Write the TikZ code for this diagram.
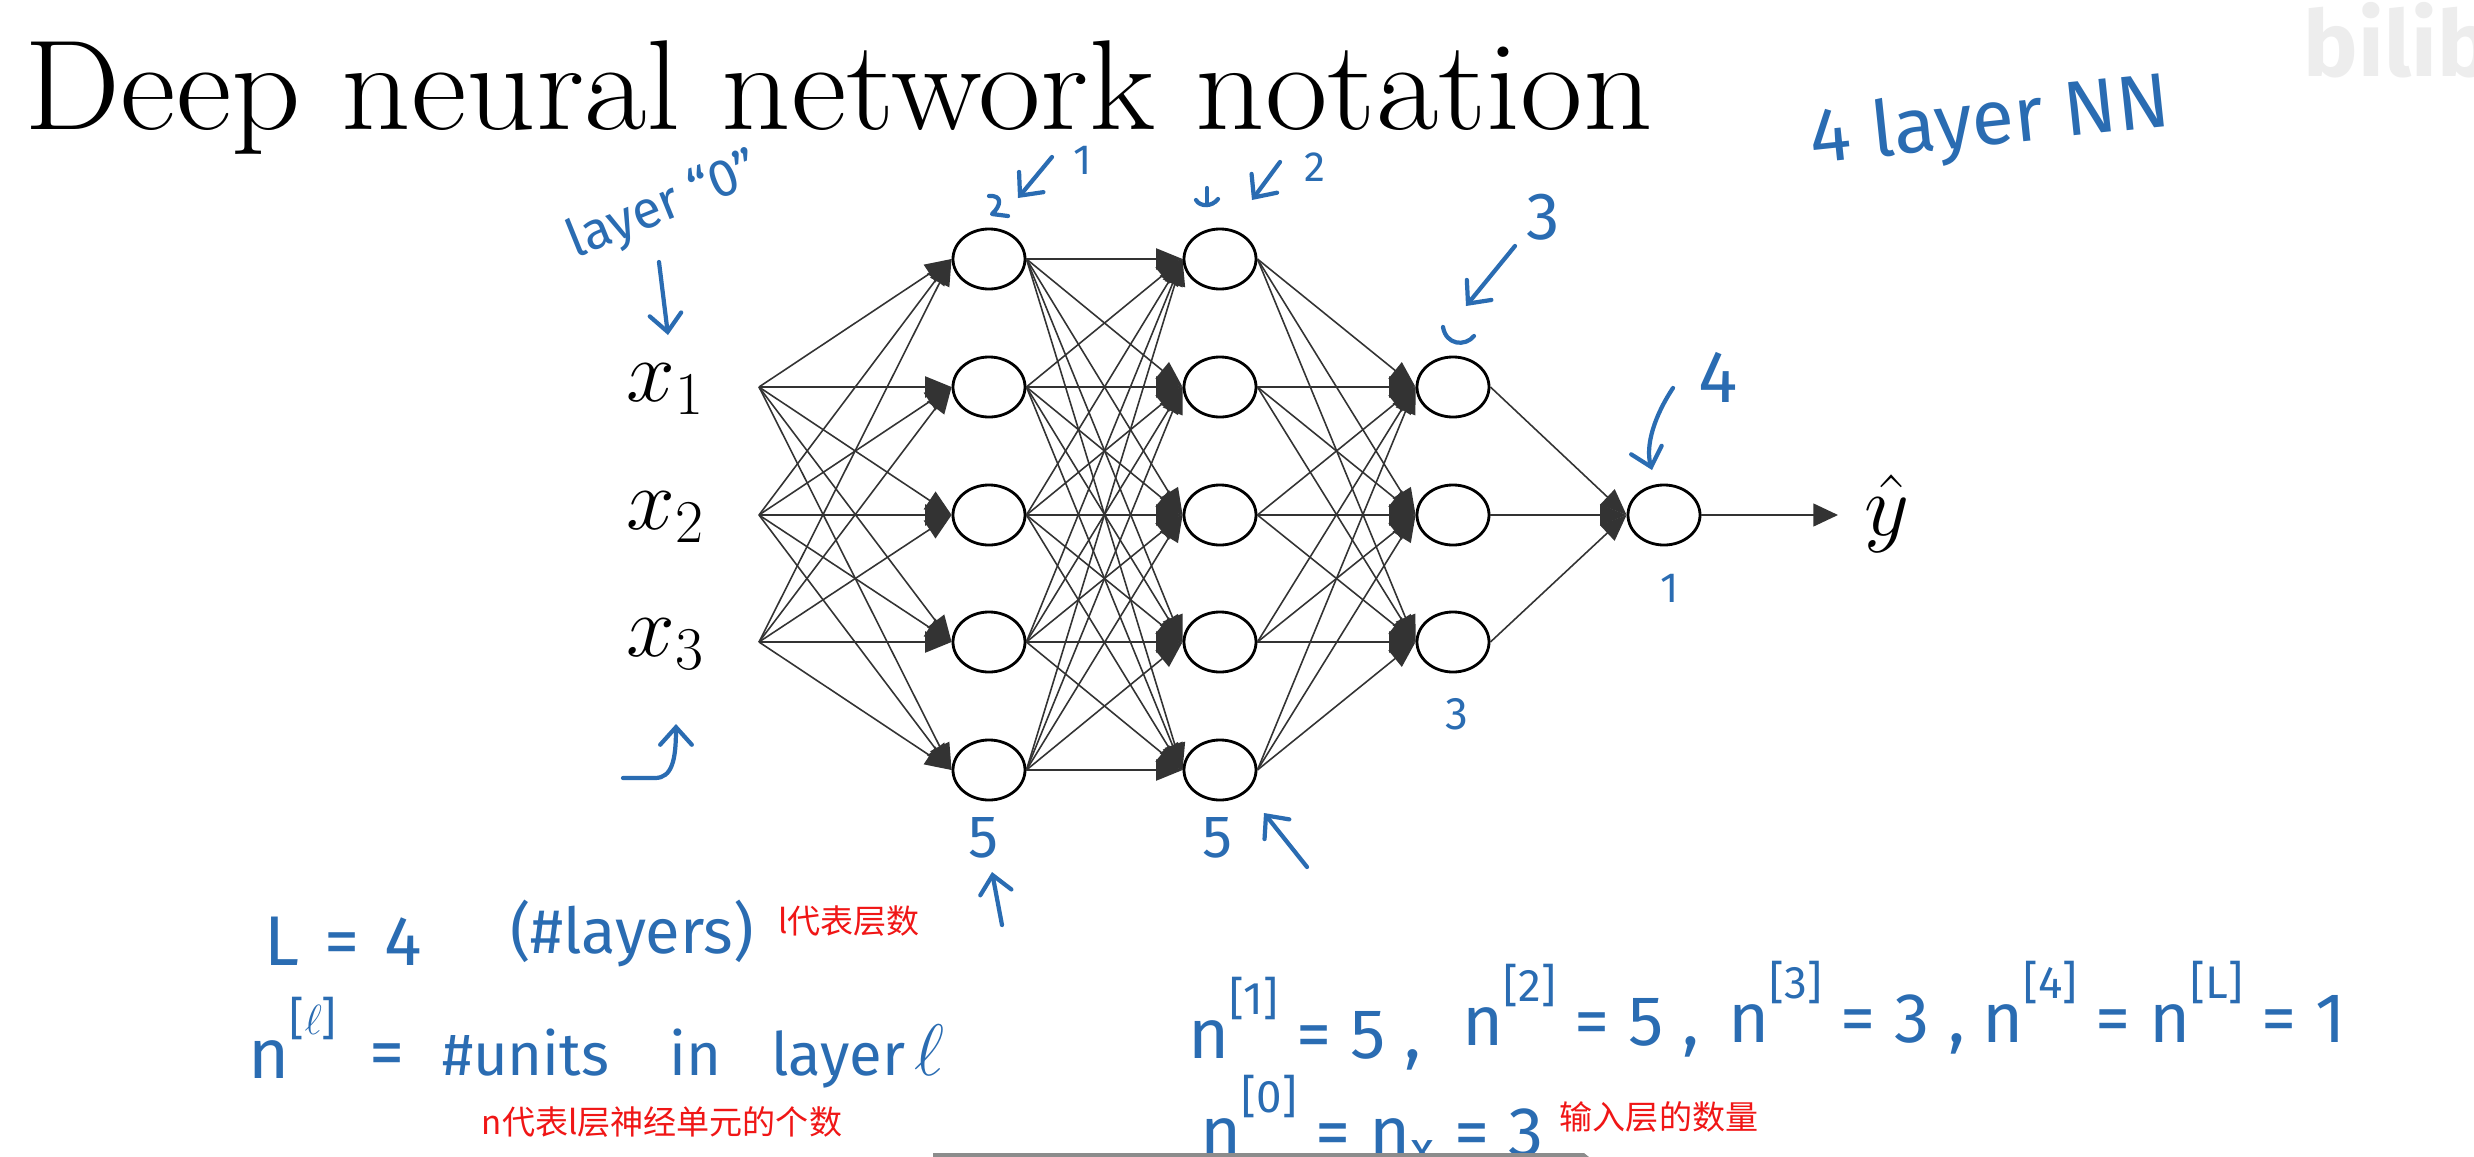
\documentclass[tikz,border=0pt]{standalone}
\usepackage{fontspec}
\usetikzlibrary{arrows.meta,shapes.geometric}
\newfontfamily\handfont{Fira Sans}
\newfontfamily\cjkfont{Noto Sans CJK SC}
\definecolor{ink}{RGB}{42,108,178}
\definecolor{note}{RGB}{240,22,22}
% small raised index written after a handwritten n
\newcommand\hidx[1]{\raisebox{0.62em}{\fontsize{13}{13}\selectfont #1}}

\begin{document}
\begin{tikzpicture}[x=0.01cm,y=-0.01cm,
  neuron/.style={draw=black, line width=0.8pt, ellipse, minimum width=0.72cm,
    minimum height=0.60cm, inner sep=0pt, fill=white},
  conn/.style={draw=black!80, line width=0.45pt, -{Triangle[length=7.5pt,width=6pt]}},
  mathlbl/.style={inner sep=0pt, font=\fontsize{23}{27}\selectfont},
  hand/.style={text=ink, inner sep=0pt, font=\handfont\fontsize{#1}{#1}\selectfont},
  handarrow/.style={draw=ink, line width=1.2pt, line cap=round, line join=round,
    -{Straight Barb[length=5pt,width=9pt,line cap=round]}},
  handmark/.style={draw=ink, line width=1.2pt, line cap=round, line join=round},
  remark/.style={text=note, inner sep=0pt, font=\cjkfont\fontsize{9.4}{11}\selectfont}]

\useasboundingbox (0,0) rectangle (2474,1157);
\fill[white] (0,0) rectangle (2474,1157);

% faint video watermark
\node[anchor=north west, inner sep=0pt, text=black!7,
  font=\handfont\bfseries\fontsize{26}{26}\selectfont] (wm) at (2303,2) {bilibili};

% title
\node[anchor=base west, inner sep=0pt, font=\fontsize{35}{40}\selectfont]
  (title) at (24,129) {\scalebox{1.105}[1.04]{Deep neural network notation}};

% neurons
\foreach \i/\y in {1/259,2/387,3/515,4/642,5/770} {
  \node[neuron] (a\i) at (989,\y) {};
  \node[neuron] (b\i) at (1220,\y) {};
}
\foreach \i/\y in {1/387,2/515,3/642}
  \node[neuron] (c\i) at (1453,\y) {};
\node[neuron] (d1) at (1664,515) {};

% inputs
\foreach \i/\y in {1/387,2/515,3/642} {
  \node[mathlbl, anchor=base] (x\i) at (666,\y+14) {$x_{\i}$};
  \coordinate (in\i) at (759,\y);
}

% fully connected layers
\foreach \s in {1,2,3} \foreach \t in {1,...,5}
  \draw[conn] (in\s) -- (a\t.west);
\foreach \s in {1,...,5} \foreach \t in {1,...,5}
  \draw[conn] (a\s.east) -- (b\t.west);
\foreach \s in {1,...,5} \foreach \t in {1,2,3}
  \draw[conn] (b\s.east) -- (c\t.west);
\foreach \s in {1,2,3}
  \draw[conn] (c\s.east) -- (d1.west);

% output
\coordinate (yend) at (1838,515);
\draw[conn, -{Triangle[length=7pt,width=6.5pt]}] (d1.east) -- (yend);
\node[mathlbl, anchor=base] (yhat) at (1887,535) {$\hat{y}$};

% handwritten notes
\node[hand=22, rotate=6] (nn4) at (1990,124) {4 layer NN};
\node[hand=15, rotate=22] (lay0) at (664,207) {layer “0”};
\draw[handarrow] (659,262) -- (668,335);

\node[hand=12] (n1top) at (1083,160) {1};
\draw[handarrow] (1052,157) -- (1018,198);
\draw[handmark] (989,196) .. controls (1003,195) and (1001,206) .. (992,214) -- (1008,216);

\node[hand=12] (n2top) at (1315,167) {2};
\draw[handarrow] (1280,162) -- (1252,200);
\draw[handmark] (1207,188) -- (1207,205);
\draw[handmark] (1196,200) .. controls (1200,207) and (1212,207) .. (1218,199);

\node[hand=19] (n3top) at (1543,217) {3};
\draw[handarrow] (1515,246) -- (1466,306);
\draw[handmark] (1443,327) .. controls (1446,345) and (1465,347) .. (1474,336);

\node[hand=21] (n4top) at (1718,377) {4};
\draw[handarrow] (1673,388) .. controls (1655,415) and (1645,445) .. (1652,470);

\node[hand=12] (n4bot) at (1670,588) {1};
\node[hand=13] (n3bot) at (1457,714) {3};
\node[hand=17] (n1bot) at (983,838) {5};
\draw[handarrow] (1002,925) -- (992,872);
\node[hand=17] (n2bot) at (1217,838) {5};
\draw[handarrow] (1307,867) -- (1264,813);

\draw[handarrow] (623,778) -- (655,778) .. controls (672,778) and (676,760) .. (676,724);

% definitions at the bottom
\node[hand=20, anchor=base west] (Ldef) at (264,965) {L\hspace{0.35em}=\hspace{0.35em}4};
\node[hand=18] (Lhash) at (632,933) {(\#layers)};
\node[remark] (Lnote) at (849,921) {l代表层数};

\node[hand=20, anchor=base west] (ndef) at (248,1078) {n\hidx{[$\ell$]}};
\node[hand=20, anchor=base west] (neq) at (369,1076) {=};
\node[hand=17, anchor=base west] (units) at (442,1075) {\#units};
\node[hand=17, anchor=base west] (win) at (669,1075) {in};
\node[hand=17, anchor=base west] (wlayer) at (771,1075) {layer};
\node[hand=20, anchor=base west] (well) at (914,1075) {$\ell$};
\node[remark] (nnote) at (662,1122) {n代表l层神经单元的个数};

\node[hand=20, anchor=base west] (g1) at (1188,1058) {n\hidx{[1]} = 5 ,};
\node[hand=20, anchor=base west] (g2) at (1462,1045) {n\hidx{[2]} = 5 ,};
\node[hand=20, anchor=base west] (g3) at (1728,1042) {n\hidx{[3]} = 3 ,};
\node[hand=20, anchor=base west] (g4) at (1982,1042) {n\hidx{[4]} = n\hidx{[L]} = 1};

\node[hand=20, anchor=base west] (g0) at (1200,1156) {n\hidx{[0]} = n\textsubscript{x} = 3};
\node[remark] (g0note) at (1659,1117) {输入层的数量};

% progress bar at the lower edge
\fill[black!45] (933,1153) -- (1584,1153) -- (1589,1157) -- (933,1157) -- cycle;
\end{tikzpicture}
\end{document}
